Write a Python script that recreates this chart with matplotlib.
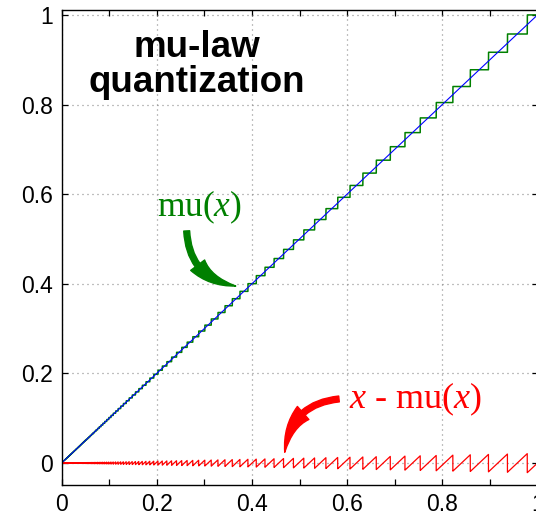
import numpy as np
import matplotlib
matplotlib.use('Agg')
from matplotlib import pyplot as plt
import matplotlib.ticker as ticker

plt.rcParams['font.family'] = ['Liberation Sans', 'DejaVu Sans']
plt.rcParams['mathtext.fontset'] = 'custom'
plt.rcParams['mathtext.rm'] = 'Liberation Serif'
plt.rcParams['mathtext.it'] = 'Liberation Serif:italic'

# ----- mu-law quantizer settings ----- #
mu = 255.0            # compression constant
n_levels = 128        # levels on [0, 1] (8-bit signed)
n_samp = 20001        # samples along x

x_lim = [0.0, 1.0]
y_lim = [-0.049, 1.011]
x_major = [0.0, 0.2, 0.4, 0.6, 0.8, 1.0]
x_labels = ['0', '0.2', '0.4', '0.6', '0.8', '1']
y_major = [0.0, 0.2, 0.4, 0.6, 0.8, 1.0]
y_labels = ['0', '0.2', '0.4', '0.6', '0.8', '1']

x = np.linspace(0.0, 1.0, n_samp)
comp = np.log1p(mu*x)/np.log1p(mu)
comp_q = np.round(comp*n_levels)/n_levels
mu_x = ((1.0+mu)**comp_q - 1.0)/mu
err = x - mu_x

# ----- Figure ----- #
fs = 16.5
fig = plt.figure(figsize=(5.36, 5.11), dpi=100)
ax = fig.add_axes([61.5/536, 26/511, 476/536, 475/511])

ax.plot(x, mu_x, color='green', linewidth=1.1)
ax.plot(x, x, color='blue', linewidth=0.8)
ax.plot(x, err, color='red', linewidth=0.9)

ax.set_xlim(x_lim)
ax.set_ylim(y_lim)
ax.set_xticks(x_major)
ax.set_xticklabels(x_labels, fontsize=fs)
ax.set_yticks(y_major)
ax.set_yticklabels(y_labels, fontsize=fs)
ax.xaxis.set_minor_locator(ticker.MultipleLocator(0.1))
ax.tick_params(which='both', direction='in', top=True, right=True,
               length=4.5, width=0.9, colors='k')
ax.tick_params(axis='x', pad=6)
ax.tick_params(axis='y', pad=6)
for axis in ['top', 'bottom', 'left', 'right']:
    ax.spines[axis].set_linewidth(1.0)

ax.grid(True, color='0.5', linewidth=0.9, dashes=(0.8, 3.2))
ax.set_axisbelow(True)

# Figure texts
ax.text(0.284, 0.888, "mu-law\nquantization", fontsize=26.5, fontweight='bold',
        ha='center', va='center', linespacing=1.0)

arrow_style = 'simple,head_length=1.25,head_width=0.5,tail_width=0.17'

ax.text(0.29, 0.571, r"mu($x$)", color='green', fontsize=25.5, family='Liberation Serif',
        ha='center', va='center')
ax.annotate("", xy=(0.366, 0.395), xytext=(0.263, 0.518),
            arrowprops=dict(arrowstyle=arrow_style,
                            connectionstyle='arc3,rad=0.4', color='green',
                            mutation_scale=25, shrinkA=0, shrinkB=0))

ax.text(0.743, 0.143, r"$x$ - mu($x$)", color='red', fontsize=26, family='Liberation Serif',
        ha='center', va='center')
ax.annotate("", xy=(0.469, 0.024), xytext=(0.583, 0.143),
            arrowprops=dict(arrowstyle=arrow_style,
                            connectionstyle='arc3,rad=0.4', color='red',
                            mutation_scale=25, shrinkA=0, shrinkB=0))

plt.savefig('out.png', dpi=100)
plt.close()
